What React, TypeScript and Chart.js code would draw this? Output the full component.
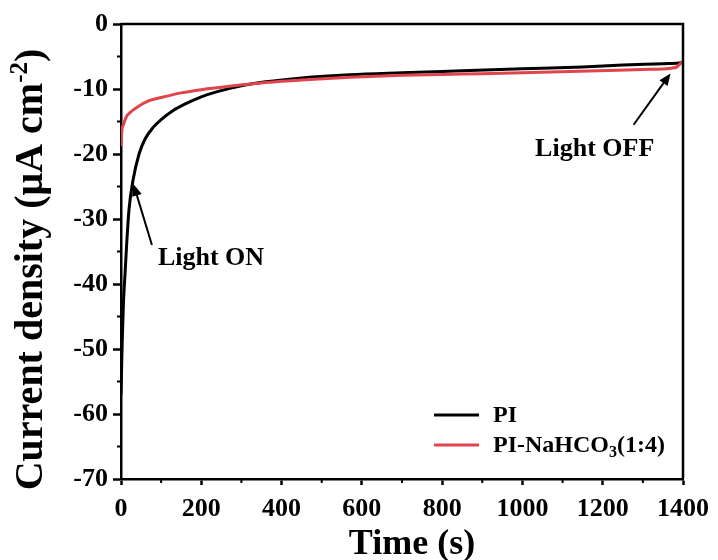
import React, { useEffect, useRef } from 'react';
import { Chart, registerables } from 'chart.js';

Chart.register(...registerables);

// ---- data ----
const piTimes = [0, 3, 6, 10, 14, 20, 30, 45, 60, 80, 100, 130, 160, 200, 240, 300, 360, 450, 570, 700, 850, 1000, 1150, 1250, 1350, 1390, 1400];
const piValues = [-57, -49, -43, -38.5, -34, -28.5, -24, -20, -17.7, -15.9, -14.7, -13.3, -12.3, -11.2, -10.4, -9.5, -8.9, -8.3, -7.8, -7.5, -7.2, -6.9, -6.6, -6.3, -6.1, -6.0, -5.9];

const naTimes = [0, 2, 6, 14, 25, 40, 70, 100, 150, 200, 280, 360, 450, 570, 700, 850, 1000, 1190, 1300, 1370, 1385, 1395, 1400];
const naValues = [-18.8, -16.5, -15.5, -14.2, -13.5, -12.8, -11.8, -11.3, -10.6, -10.1, -9.5, -9.0, -8.6, -8.2, -7.9, -7.7, -7.5, -7.2, -7.0, -6.8, -6.6, -6.0, -5.8];

const seriesNames = ['PI', 'PI-NaHCO3(1:4)'];
const seriesColors = ['#000000', '#e0444c'];

const xTicks = [0, 200, 400, 600, 800, 1000, 1200, 1400];
const yTicks = [0, -10, -20, -30, -40, -50, -60, -70];
const xMinorTicks = [100, 300, 500, 700, 900, 1100, 1300];
const yMinorTicks = [-5, -15, -25, -35, -45, -55, -65];

const xTitle = 'Time (s)';
const yTitleMain = 'Current density (μA cm';
const yTitleSup = '-2';
const yTitleEnd = ')';

// annotations in data coordinates
const annLightOn = { text: 'Light ON', tx: 92, ty: -36.1, fromX: 77, fromY: -34.0, toX: 31, toY: -24.6 };
const annLightOff = { text: 'Light OFF', tx: 1180, ty: -19.3, fromX: 1277, fromY: -15.5, toX: 1369, toY: -7.6 };

const FONT = '"Liberation Serif", "Times New Roman", serif';

function drawArrow(ctx: CanvasRenderingContext2D, x0: number, y0: number, x1: number, y1: number) {
  const ang = Math.atan2(y1 - y0, x1 - x0);
  const head = 12;
  const hw = 5;
  ctx.save();
  ctx.strokeStyle = '#000';
  ctx.fillStyle = '#000';
  ctx.lineWidth = 2;
  ctx.beginPath();
  ctx.moveTo(x0, y0);
  ctx.lineTo(x1 - Math.cos(ang) * head * 0.8, y1 - Math.sin(ang) * head * 0.8);
  ctx.stroke();
  ctx.beginPath();
  ctx.moveTo(x1, y1);
  ctx.lineTo(x1 - Math.cos(ang) * head - Math.sin(ang) * hw, y1 - Math.sin(ang) * head + Math.cos(ang) * hw);
  ctx.lineTo(x1 - Math.cos(ang) * head + Math.sin(ang) * hw, y1 - Math.sin(ang) * head - Math.cos(ang) * hw);
  ctx.closePath();
  ctx.fill();
  ctx.restore();
}

const decorPlugin = {
  id: 'decor',
  afterDraw(chart: any) {
    const ctx: CanvasRenderingContext2D = chart.ctx;
    const ca = chart.chartArea;
    const xs = chart.scales.x;
    const ys = chart.scales.y;
    ctx.save();
    // frame top/right
    ctx.strokeStyle = '#000';
    ctx.lineWidth = 2.5;
    ctx.beginPath();
    ctx.moveTo(ca.left, ca.top);
    ctx.lineTo(ca.right, ca.top);
    ctx.lineTo(ca.right, ca.bottom);
    ctx.stroke();
    // minor ticks
    ctx.lineWidth = 2;
    ctx.beginPath();
    xMinorTicks.forEach((v) => {
      const px = xs.getPixelForValue(v);
      ctx.moveTo(px, ca.bottom);
      ctx.lineTo(px, ca.bottom + 4);
    });
    yMinorTicks.forEach((v) => {
      const py = ys.getPixelForValue(v);
      ctx.moveTo(ca.left, py);
      ctx.lineTo(ca.left - 4, py);
    });
    ctx.stroke();

    // y title
    ctx.fillStyle = '#000';
    ctx.textBaseline = 'alphabetic';
    const big = 'bold 40px ' + FONT;
    const small = 'bold 25px ' + FONT;
    ctx.font = big;
    const w1 = ctx.measureText(yTitleMain).width;
    const w3 = ctx.measureText(yTitleEnd).width;
    ctx.font = small;
    const w2 = ctx.measureText(yTitleSup).width;
    const total = w1 + w2 + w3;
    ctx.save();
    ctx.translate(42, (ca.top + ca.bottom) / 2 + 18);
    ctx.rotate(-Math.PI / 2);
    let x = -total / 2;
    ctx.font = big;
    ctx.textAlign = 'left';
    ctx.fillText(yTitleMain, x, 0);
    x += w1;
    ctx.font = small;
    ctx.fillText(yTitleSup, x, -15);
    x += w2;
    ctx.font = big;
    ctx.fillText(yTitleEnd, x, 0);
    ctx.restore();

    // legend
    const legX0 = ca.left + (ca.right - ca.left) * 0.557;
    const legX1 = legX0 + 45;
    const legTx = legX1 + 14;
    const legY = [ca.bottom - 64, ca.bottom - 34];
    ctx.lineWidth = 3;
    seriesNames.forEach((name, i) => {
      ctx.strokeStyle = seriesColors[i];
      ctx.beginPath();
      ctx.moveTo(legX0, legY[i]);
      ctx.lineTo(legX1, legY[i]);
      ctx.stroke();
      ctx.fillStyle = '#000';
      ctx.textBaseline = 'middle';
      ctx.textAlign = 'left';
      const m = name.match(/^(.*?)(\d)(\(.*\))$/);
      ctx.font = 'bold 24px ' + FONT;
      if (m && i === 1) {
        let tx = legTx;
        ctx.fillText(m[1], tx, legY[i] + 1);
        tx += ctx.measureText(m[1]).width;
        ctx.font = 'bold 16px ' + FONT;
        ctx.fillText(m[2], tx, legY[i] + 8);
        tx += ctx.measureText(m[2]).width;
        ctx.font = 'bold 24px ' + FONT;
        ctx.fillText(m[3], tx, legY[i] + 1);
      } else {
        ctx.fillText(name, legTx, legY[i] + 1);
      }
    });

    // annotations
    [annLightOn, annLightOff].forEach((a, i) => {
      ctx.font = 'bold 26px ' + FONT;
      ctx.fillStyle = '#000';
      ctx.textBaseline = 'middle';
      ctx.textAlign = i === 0 ? 'left' : 'center';
      ctx.fillText(a.text, xs.getPixelForValue(a.tx), ys.getPixelForValue(a.ty));
      drawArrow(ctx, xs.getPixelForValue(a.fromX), ys.getPixelForValue(a.fromY), xs.getPixelForValue(a.toX), ys.getPixelForValue(a.toY));
    });

    // x title
    ctx.font = 'bold 36px ' + FONT;
    ctx.textAlign = 'center';
    ctx.textBaseline = 'alphabetic';
    ctx.fillText(xTitle, (ca.left + ca.right) / 2 + 10, 554);

    ctx.restore();
  },
};

export default function App() {
  const ref = useRef<HTMLCanvasElement | null>(null);

  useEffect(() => {
    document.body.style.margin = '0';
    const canvas = ref.current;
    if (!canvas) return;
    const chart = new Chart(canvas, {
      type: 'line',
      data: {
        datasets: [
          {
            label: seriesNames[0],
            data: piTimes.map((t, i) => ({ x: t, y: piValues[i] })),
            borderColor: seriesColors[0],
            borderWidth: 3,
            pointRadius: 0,
            cubicInterpolationMode: 'monotone',
            order: 1,
          },
          {
            label: seriesNames[1],
            data: naTimes.map((t, i) => ({ x: t, y: naValues[i] })),
            borderColor: seriesColors[1],
            borderWidth: 3,
            pointRadius: 0,
            cubicInterpolationMode: 'monotone',
            order: 0,
          },
        ],
      },
      options: {
        responsive: false,
        animation: false,
        layout: { padding: { top: 24, right: 34, left: 0, bottom: 0 } },
        plugins: { legend: { display: false }, tooltip: { enabled: false } },
        scales: {
          x: {
            type: 'linear',
            min: 0,
            max: 1400,
            afterBuildTicks: (s: any) => {
              s.ticks = xTicks.map((v) => ({ value: v }));
            },
            afterFit: (s: any) => {
              s.height = 81;
            },
            border: { color: '#000', width: 2.5 },
            grid: { drawOnChartArea: false, drawTicks: true, tickLength: 6, tickWidth: 2.5, tickColor: '#000' },
            ticks: {
              color: '#000',
              font: { family: FONT, size: 26, weight: 'bold' },
              padding: 9,
              maxRotation: 0,
              autoSkip: false,
              callback: (v: any) => String(v),
            },
          },
          y: {
            type: 'linear',
            min: -70,
            max: 0,
            afterBuildTicks: (s: any) => {
              s.ticks = yTicks.map((v) => ({ value: v }));
            },
            afterFit: (s: any) => {
              s.width = 121;
            },
            border: { color: '#000', width: 2.5 },
            grid: { drawOnChartArea: false, drawTicks: true, tickLength: 8, tickWidth: 2.5, tickColor: '#000' },
            ticks: {
              color: '#000',
              font: { family: FONT, size: 26, weight: 'bold' },
              padding: 5,
              autoSkip: false,
              callback: (v: any) => String(v),
            },
          },
        },
      },
      plugins: [decorPlugin],
    } as any);
    return () => chart.destroy();
  }, []);

  return (
    <div style={{ width: 718, height: 560, background: '#fff' }}>
      <canvas ref={ref} width={718} height={560} />
    </div>
  );
}
